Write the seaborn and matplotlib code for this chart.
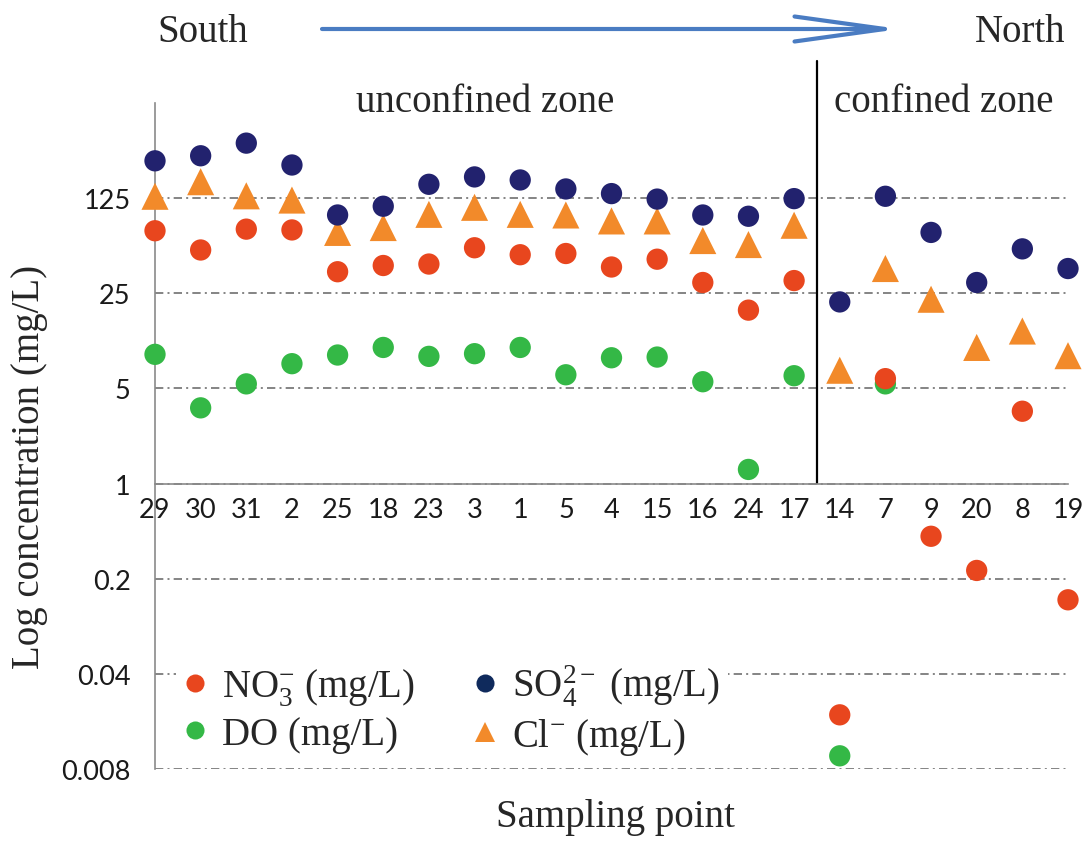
"""Log concentrations of NO3-, SO4 2-, DO and Cl- at each sampling point,
ordered south to north across the unconfined and confined zones.
"""
import numpy as np
import pandas as pd

import seaborn as sns
import matplotlib.pyplot as plt
from matplotlib.lines import Line2D

sns.set_style("white")
plt.rcParams["font.family"] = "serif"
plt.rcParams["font.serif"] = ["Liberation Serif", "DejaVu Serif"]
plt.rcParams["mathtext.fontset"] = "custom"
plt.rcParams["mathtext.rm"] = "Liberation Serif"
plt.rcParams["mathtext.it"] = "Liberation Serif:italic"
plt.rcParams["mathtext.bf"] = "Liberation Serif:bold"


points = ["29", "30", "31", "2", "25", "18", "23", "3", "1", "5", "4",
          "15", "16", "24", "17", "14", "7", "9", "20", "8", "19"]

no3 = [72, 52, 74, 73, 36, 40, 41, 54, 48, 49, 39,
       44.5, 30, 18.8, 31, 0.020, 5.9, 0.41, 0.23, 3.4, 0.14]
so4 = [235, 256, 317, 219, 94, 109, 158, 179, 170, 146, 135,
       123, 94, 92, 124, 21.6, 129, 70, 30, 53, 38]
do = [8.9, 3.6, 5.4, 7.6, 8.8, 10, 8.6, 9.0, 10, 6.3, 8.4,
      8.5, 5.6, 1.27, 6.2, 0.010, 5.4, np.nan, np.nan, np.nan, np.nan]
cl = [129, 165, 130, 121, 70, 76, 95, 107, 95, 94, 85,
      85, 61, 57, 79, 6.8, 38, 22.6, 10, 13.2, 8.7]

yticks = [0.008, 0.04, 0.2, 1, 5, 25, 125]
ytick_labels = ["0.008", "0.04", "0.2", "1", "5", "25", "125"]

# draw order: DO at the back, SO4 on top
wide = pd.DataFrame({"point": points, "DO": do, "Cl": cl, "NO3": no3, "SO4": so4})
df = wide.melt(id_vars="point", var_name="ion", value_name="conc")
df["point"] = pd.Categorical(df["point"], categories=points)
df = df.dropna()

PALETTE = {
    "NO3": "#E8461E",
    "SO4": "#22226E",
    "DO": "#34B846",
    "Cl": "#F28A2A",
}
MARKERS = {"NO3": "o", "SO4": "o", "DO": "o", "Cl": "^"}
SIZES = {"NO3": 235, "SO4": 235, "DO": 235, "Cl": 380}

GRAY = "#8a8a8a"
TICKFONT = "Lato"

fig = plt.figure(figsize=(10.87, 8.54), dpi=100)
ax = fig.add_axes([155/1087, 84/854, 913/1087, 666/854])

sns.scatterplot(data=df, x="point", y="conc",
    hue="ion", style="ion", size="ion",
    palette=PALETTE, markers=MARKERS, sizes=SIZES,
    linewidth=0, alpha=1, legend=False, clip_on=False, zorder=3,
    ax=ax)

ax.set_yscale("log")
ax.set_ylim(0.008, 625)
ax.set_xlim(0, len(points) - 1)
ax.set_yticks(yticks)
ax.set_yticklabels(ytick_labels)
ax.yaxis.set_minor_locator(plt.NullLocator())
ax.set_xticks(range(len(points)))
ax.set_xticklabels(points)
ax.set_xlabel("")
ax.set_ylabel("")

# dash-dot grid, x axis crossing at 1
ax.yaxis.grid(True, color="#707070", linewidth=1.2, linestyle=(0, (5, 2.5, 1.2, 2.5)))
ax.xaxis.grid(False)
ax.set_axisbelow(True)
for side in ["top", "right"]:
    ax.spines[side].set_visible(False)
ax.spines["left"].set_color(GRAY)
ax.spines["left"].set_linewidth(1.2)
ax.spines["bottom"].set_color(GRAY)
ax.spines["bottom"].set_linewidth(1.2)
ax.spines["bottom"].set_position(("data", 1))

ax.tick_params(axis="x", direction="out", length=6, width=1.1, color=GRAY,
    pad=4, labelsize=19.5)
ax.tick_params(axis="y", direction="out", length=6.5, width=1.1, color=GRAY,
    pad=11, labelsize=19.5)
for lab in ax.get_xticklabels() + ax.get_yticklabels():
    lab.set_fontfamily(TICKFONT)
    lab.set_color("#1a1a1a")

# boundary between unconfined and confined zone
ax.plot([14.5, 14.5], [0.429, 1.063], color="black", linewidth=1.6,
    transform=ax.get_xaxis_transform(), clip_on=False)

fs = 28
fig.text(203/1087, 1 - 42/854, "South", fontsize=fs, ha="center", va="baseline")
fig.text(1020/1087, 1 - 42/854, "North", fontsize=fs, ha="center", va="baseline")
fig.text(485/1087, 1 - 112/854, "unconfined zone", fontsize=fs, ha="center", va="baseline")
fig.text(944/1087, 1 - 112/854, "confined zone", fontsize=fs, ha="center", va="baseline")
ax.annotate("", xy=(900/1087, 1 - 30/854), xytext=(322/1087, 1 - 30/854),
    xycoords="figure fraction", textcoords="figure fraction",
    arrowprops=dict(arrowstyle="->,head_length=6.5,head_width=0.9",
        color="#4A7CC2", lw=3, shrinkA=0, shrinkB=0))

fig.text(30/1087, 1 - 467/854, "Log concentration (mg/L)", fontsize=fs,
    rotation=90, ha="center", va="center")
fig.text(615/1087, 1 - 818/854, "Sampling point", fontsize=fs,
    ha="center", va="center")

handles = [
    Line2D([], [], linestyle="", marker="o", markersize=13,
        markerfacecolor=PALETTE["NO3"], markeredgewidth=0),
    Line2D([], [], linestyle="", marker="o", markersize=13,
        markerfacecolor=PALETTE["DO"], markeredgewidth=0),
    Line2D([], [], linestyle="", marker="o", markersize=13,
        markerfacecolor="#0F2A5C", markeredgewidth=0),
    Line2D([], [], linestyle="", marker="^", markersize=15,
        markerfacecolor=PALETTE["Cl"], markeredgewidth=0),
]
labels = [r"NO$_3^{-}$ (mg/L)", "DO (mg/L)",
          r"SO$_4^{2-}$ (mg/L)", r"Cl$^{-}$ (mg/L)"]
leg = ax.legend(handles, labels, ncol=2, fontsize=fs,
    loc="center left", bbox_to_anchor=(0.0225, 0.089),
    frameon=True, facecolor="white", edgecolor="none", framealpha=1,
    fancybox=False, borderpad=0.2, handlelength=0.6, handletextpad=0.4,
    columnspacing=1.5, labelspacing=0.2, borderaxespad=0)
leg.set_zorder(5)

plt.savefig("out.png", dpi=100)
plt.close()
